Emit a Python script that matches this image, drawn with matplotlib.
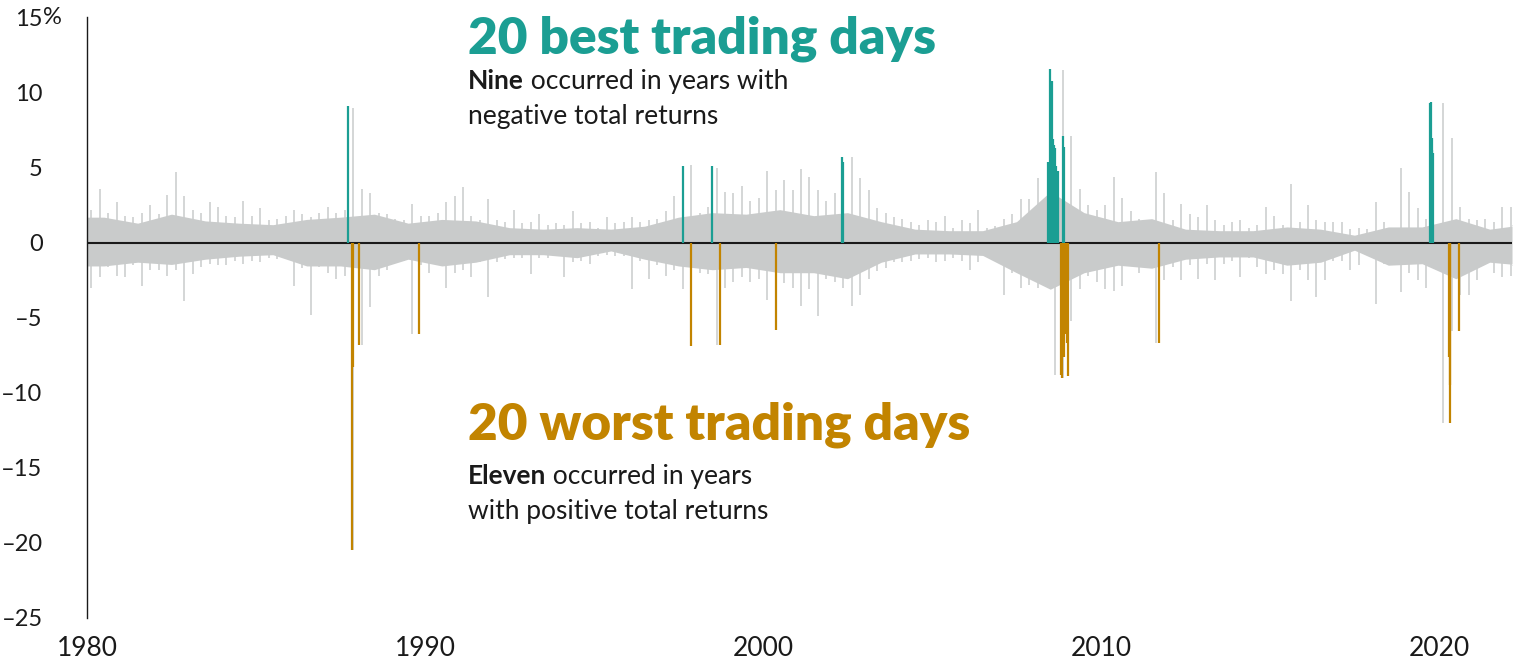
import numpy as np
import matplotlib.pyplot as plt

plt.rcParams['font.family'] = ['Lato', 'DejaVu Sans']

# ---- data (daily returns, %) ----
years = np.arange(1980, 2023)

# typical (dense) daily range per year
body_up = [1.7, 1.3, 1.9, 1.45, 1.3, 1.2, 1.55, 1.7, 1.9, 1.3,
           1.55, 1.45, 1.0, 0.9, 1.0, 0.9, 1.1, 1.7, 2.0, 1.9,
           2.2, 1.8, 2.0, 1.4, 0.9, 0.8, 0.8, 1.4, 3.4, 2.0,
           1.4, 1.6, 0.9, 0.8, 0.8, 1.05, 0.9, 0.5, 1.05, 1.05,
           1.6, 0.9, 1.2]
body_dn = [-1.55, -1.3, -1.45, -1.1, -0.9, -0.8, -1.55, -1.55, -1.8, -1.1,
           -1.55, -1.3, -0.8, -0.8, -1.0, -0.55, -1.1, -1.55, -1.8, -1.65,
           -2.0, -2.0, -2.4, -1.3, -0.75, -0.75, -0.85, -2.0, -3.1, -2.0,
           -1.5, -1.7, -1.1, -0.95, -0.95, -1.5, -1.3, -0.5, -1.5, -1.4,
           -2.4, -1.3, -1.5]

# largest up / down day in each quarter, 1980 Q1 .. 2022 Q1
peak_up = [2.2, 3.6, 2.0, 2.7,  1.8, 1.7, 2.0, 2.5,  1.9, 3.2, 4.7, 3.1,
           2.2, 2.0, 2.7, 2.4,  1.8, 1.7, 2.8, 1.8,  2.3, 1.5, 1.6, 1.8,
           2.2, 1.9, 1.7, 2.0,  2.4, 2.0, 2.2, 9.0,  3.6, 3.3, 2.0, 1.9,
           1.6, 1.5, 2.6, 1.8,  1.8, 2.0, 2.7, 3.1,  3.7, 1.8, 1.5, 2.9,
           1.5, 1.4, 2.2, 1.3,  1.4, 1.9, 1.2, 1.3,  1.2, 2.1, 1.3, 1.4,
           1.0, 1.7, 1.3, 1.4,  1.7, 1.4, 1.5, 1.6,  2.1, 3.1, 2.0, 5.2,
           2.0, 2.4, 5.0, 3.4,  3.3, 3.8, 2.8, 3.0,  4.8, 3.5, 4.2, 3.5,
           4.9, 4.4, 3.5, 2.8,  3.3, 2.9, 5.7, 4.3,  3.5, 2.3, 2.0, 1.7,
           1.6, 1.4, 1.2, 1.5,  1.4, 1.8, 1.0, 1.5,  1.3, 2.2, 1.0, 1.1,
           1.6, 1.9, 2.9, 2.9,  4.3, 3.0, 5.4, 11.5, 7.1, 3.6, 2.5, 2.2,
           2.5, 4.4, 3.0, 2.1,  1.6, 1.2, 4.7, 3.3,  1.5, 2.6, 1.9, 1.7,
           2.5, 1.5, 1.2, 1.4,  1.5, 1.0, 1.2, 2.4,  1.8, 1.2, 3.9, 1.4,
           2.5, 1.5, 1.4, 1.4,  1.4, 0.9, 1.0, 0.9,  2.7, 1.4, 1.0, 5.0,
           3.4, 2.3, 1.6, 1.1,  9.3, 7.0, 2.4, 1.6,  1.5, 1.6, 1.4, 2.4,
           2.4]
peak_dn = [-3.0, -2.3, -1.6, -2.2,  -2.3, -1.5, -2.9, -1.8,  -1.8, -2.2, -1.8, -3.9,
           -2.1, -1.6, -1.4, -1.5,  -1.5, -1.2, -1.4, -1.2,  -1.3, -1.0, -1.1, -1.0,
           -2.9, -1.7, -4.8, -1.6,  -2.0, -2.4, -2.2, -20.5, -6.8, -4.3, -2.2, -1.8,
           -1.3, -1.2, -6.1, -1.5,  -2.0, -1.5, -3.0, -2.0,  -1.8, -2.3, -1.3, -3.6,
           -1.3, -1.1, -1.0, -1.0,  -2.1, -1.0, -1.0, -0.9,  -2.3, -1.3, -1.2, -1.4,
           -0.9, -0.8, -0.9, -0.9,  -3.1, -1.2, -2.4, -1.5,  -2.2, -1.8, -3.1, -6.9,
           -2.0, -2.1, -6.8, -3.0,  -2.6, -2.3, -2.6, -2.4,  -3.8, -5.8, -2.7, -3.0,
           -4.2, -3.1, -4.9, -2.4,  -2.6, -3.0, -4.2, -3.5,  -2.4, -1.9, -1.7, -1.3,
           -1.3, -1.2, -1.1, -1.0,  -1.3, -1.2, -1.0, -1.2,  -1.85, -1.3, -0.9, -1.0,
           -3.5, -2.0, -3.0, -2.8,  -3.0, -2.5, -8.8, -9.0,  -5.2, -3.1, -2.2, -2.6,
           -3.1, -3.2, -2.9, -1.5,  -2.0, -1.5, -6.7, -2.5,  -1.6, -2.5, -1.5, -2.4,
           -1.4, -2.5, -1.4, -1.2,  -2.3, -1.0, -1.6, -2.1,  -1.8, -2.1, -3.9, -1.8,
           -2.5, -3.6, -2.5, -1.2,  -1.2, -1.8, -1.5, -0.6,  -4.1, -1.4, -1.0, -3.3,
           -2.0, -2.5, -3.0, -1.4,  -12.0, -5.9, -3.5, -3.5,  -2.5, -1.3, -2.0, -2.3,
           -2.2]

# 20 best days (as placed in the reference)
best_dates = [1987.73, 1997.63, 1998.49, 2002.33, 2002.38,
              2008.43, 2008.48, 2008.54, 2008.59, 2008.62,
              2008.64, 2008.68, 2008.72, 2008.88, 2008.92,
              2019.74, 2019.76, 2019.78, 2019.80, 2019.83]
best_values = [9.1, 5.1, 5.1, 5.7, 5.4,
               5.4, 11.6, 10.8, 6.9, 6.5,
               6.3, 5.1, 4.8, 7.1, 6.4,
               9.3, 9.4, 7.0, 6.2, 6.0]

# 20 worst days
worst_dates = [1987.83, 1987.86, 1988.06, 1989.83, 1997.88, 1998.74, 2000.37,
               2008.83, 2008.86, 2008.89, 2008.91, 2008.94, 2008.96, 2008.99, 2009.02,
               2011.72, 2020.31, 2020.32, 2020.33, 2020.58]
worst_values = [-20.5, -8.3, -6.8, -6.1, -6.9, -6.8, -5.8,
                -8.8, -9.0, -5.7, -7.6, -6.1, -6.1, -6.7, -8.9,
                -6.7, -7.6, -9.5, -12.0, -5.9]

y_ticks = [15, 10, 5, 0, -5, -10, -15, -20, -25]
y_labels = ["15", "10", "5", "0", "\u20135", "\u201310", "\u201315", "\u201320", "\u201325"]
x_ticks = [1980, 1990, 2000, 2010, 2020]

TEAL = "#1b9e93"
GOLD = "#c28400"
GRAY = "#c9cbcb"
INK = "#1a1a1a"

W, H = 1513, 665
fig = plt.figure(figsize=(W / 100, H / 100), dpi=100)
ax = fig.add_axes([87 / W, 1 - 618 / H, (1512 - 87) / W, (618 - 17.5) / H])
x0, x1 = 1980.0, 2022.16
ax.set_xlim(x0, x1)
ax.set_ylim(-25, 15)

# gray background of daily returns: typical band + quarterly extremes
bx = np.concatenate([[x0], years + 0.5, [x1]])
bu = np.concatenate([[body_up[0]], body_up, [body_up[-1]]])
bd = np.concatenate([[body_dn[0]], body_dn, [body_dn[-1]]])
ax.fill_between(bx, 0, bu, color=GRAY, lw=0)
ax.fill_between(bx, 0, bd, color=GRAY, lw=0)
qx = 1980.125 + 0.25 * np.arange(len(peak_up))
ax.vlines(qx, 0, peak_up, color=GRAY, lw=1.1)
ax.vlines(qx, 0, peak_dn, color=GRAY, lw=1.1)

ax.axhline(0, color=INK, lw=1.5, zorder=3)
ax.vlines(best_dates, 0, best_values, color=TEAL, lw=1.6, zorder=4)
ax.vlines(worst_dates, 0, worst_values, color=GOLD, lw=1.6, zorder=4)

for s in ["top", "right", "bottom"]:
    ax.spines[s].set_visible(False)
ax.spines["left"].set_linewidth(1.0)
ax.spines["left"].set_color(INK)

ax.set_yticks(y_ticks)
ax.set_yticklabels(y_labels)
ax.set_xticks(x_ticks)
ax.set_xticklabels([str(t) for t in x_ticks])
ax.tick_params(axis="y", length=0, pad=32, labelsize=17, labelcolor=INK)
ax.tick_params(axis="x", length=0, pad=13, labelsize=19, labelcolor=INK)
ax.annotate("%", xy=(0, 15), xycoords=("axes fraction", "data"),
            xytext=(-32, 0), textcoords="offset points",
            ha="left", va="center", fontsize=17, color=INK)

# annotations
fig.text(468 / W, 1 - 53 / H, "20 best trading days", color=TEAL,
         fontsize=37, fontweight="heavy", va="baseline")
fig.text(468 / W, 1 - 440 / H, "20 worst trading days", color=GOLD,
         fontsize=37, fontweight="heavy", va="baseline")


def two_part(x_px, y_px, bold, rest):
    t = fig.text(x_px / W, 1 - y_px / H, bold, fontsize=19, fontweight="bold",
                 color=INK, va="baseline")
    fig.canvas.draw()
    bb = t.get_window_extent()
    fig.text(bb.x1 / W, 1 - y_px / H, rest, fontsize=19, color=INK, va="baseline")


two_part(468, 89, "Nine", " occurred in years with")
fig.text(468 / W, 1 - 124 / H, "negative total returns", fontsize=19, color=INK, va="baseline")
two_part(468, 484, "Eleven", " occurred in years")
fig.text(468 / W, 1 - 519 / H, "with positive total returns", fontsize=19, color=INK, va="baseline")

fig.savefig("out.png", dpi=100)
